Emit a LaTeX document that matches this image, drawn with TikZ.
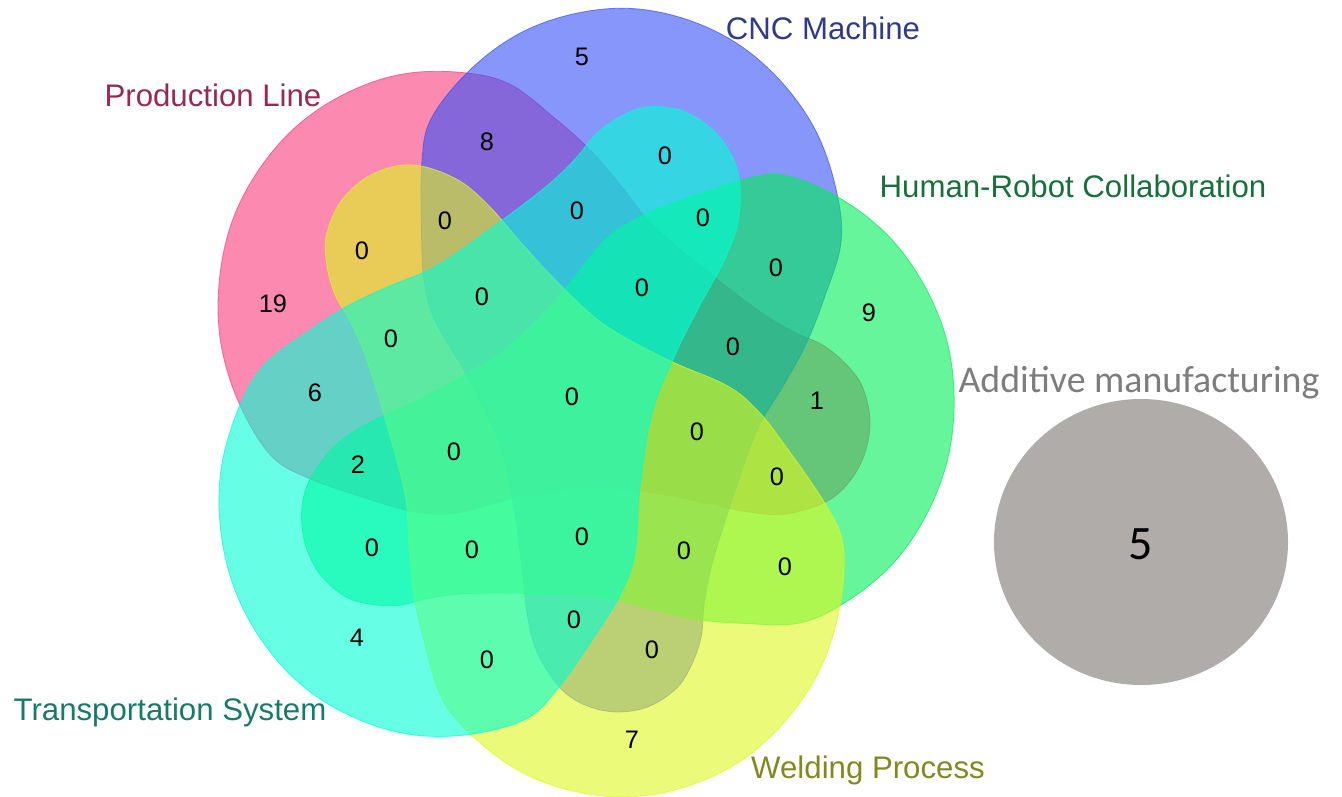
\documentclass[tikz,border=0pt]{standalone}
\usepackage{fontspec}
\setmainfont{Liberation Sans}
\newfontfamily\calfont{Carlito}
\definecolor{plcol}{RGB}{250,60,123}
\definecolor{cnccol}{RGB}{55,80,247}
\definecolor{hrccol}{RGB}{0,238,88}
\definecolor{wpcol}{RGB}{222,247,30}
\definecolor{tscol}{RGB}{0,255,213}
\definecolor{pltext}{RGB}{150,42,85}
\definecolor{cnctext}{RGB}{46,58,140}
\definecolor{hrctext}{RGB}{23,112,58}
\definecolor{tstext}{RGB}{23,122,106}
\definecolor{wptext}{RGB}{127,138,34}
\definecolor{amtext}{RGB}{125,125,125}
\definecolor{amfill}{RGB}{175,172,170}
\begin{document}
\begin{tikzpicture}[x=0.75pt,y=0.75pt,
  setshape/.style={fill opacity=0.6, draw opacity=0.7, line width=0.6pt},
  setlabel/.style={font=\fontsize{23.4}{28}\selectfont, inner sep=0pt},
  count/.style={font=\fontsize{19}{22}\selectfont, text=black, inner sep=0pt}]
\useasboundingbox (0,0) rectangle (1342,-796);

% five congruent set shapes (round lobe + bent arm), each turned 72 degrees
\foreach \col [count=\k from 0] in {plcol,cnccol,hrccol,wpcol,tscol}{
  \begin{scope}[shift={(571,-403)}, yscale=1.05, rotate=-72*\k]
    \filldraw[setshape, fill=\col, draw=\col] plot[smooth cycle, tension=0.6] coordinates {
      (-112,315) (-62,304) (-16,271) (19,241) (49,208) (81,170) (129,131)
      (186,89) (222,68) (252,55) (276,36) (292,14) (299,-21) (289,-59)
      (262,-90) (219,-105) (179,-104) (129,-94) (77,-85) (17,-80) (-53,-90)
      (-116,-105) (-154,-104) (-194,-94) (-264,-71) (-301,-49) (-332,0)
      (-350,56) (-352,113) (-340,170) (-313,221) (-274,264) (-225,295)
      (-170,313)};
  \end{scope}
}

% separate set
\fill[amfill] (1141,-542) ellipse [x radius=147, y radius=143];
\node[font=\calfont\fontsize{36}{40}\selectfont, inner sep=0pt] (am5) at (1141,-544) {5};

% set names
\node[setlabel, text=pltext] (lpl) at (213,-95) {Production Line};
\node[setlabel, text=cnctext] (lcnc) at (823,-28) {CNC Machine};
\node[setlabel, text=hrctext] (lhrc) at (1073,-186) {Human-Robot Collaboration};
\node[setlabel, text=tstext] (lts) at (170,-712) {Transportation System};
\node[setlabel, text=wptext] (lwp) at (868,-770) {Welding Process};
\node[font=\calfont\fontsize{28.4}{32}\selectfont, text=amtext, inner sep=0pt] (lam) at (1139,-383) {Additive manufacturing};

% region counts
\node[count] (c01) at (273,-304) {19};
\node[count] (c02) at (487,-142) {8};
\node[count] (c03) at (582,-57) {5};
\node[count] (c04) at (445,-221) {0};
\node[count] (c05) at (362,-251) {0};
\node[count] (c06) at (665,-156) {0};
\node[count] (c07) at (577,-211) {0};
\node[count] (c08) at (703,-218) {0};
\node[count] (c09) at (776,-268) {0};
\node[count] (c10) at (482,-297) {0};
\node[count] (c11) at (642,-288) {0};
\node[count] (c12) at (869,-313) {9};
\node[count] (c13) at (391,-339) {0};
\node[count] (c14) at (733,-347) {0};
\node[count] (c15) at (315,-393) {6};
\node[count] (c16) at (572,-397) {0};
\node[count] (c17) at (817,-401) {1};
\node[count] (c18) at (697,-432) {0};
\node[count] (c19) at (358,-465) {2};
\node[count] (c20) at (454,-452) {0};
\node[count] (c21) at (777,-477) {0};
\node[count] (c22) at (372,-548) {0};
\node[count] (c23) at (472,-550) {0};
\node[count] (c24) at (582,-537) {0};
\node[count] (c25) at (684,-551) {0};
\node[count] (c26) at (785,-567) {0};
\node[count] (c27) at (357,-638) {4};
\node[count] (c28) at (574,-620) {0};
\node[count] (c29) at (487,-660) {0};
\node[count] (c30) at (652,-650) {0};
\node[count] (c31) at (632,-740) {7};
\end{tikzpicture}
\end{document}
